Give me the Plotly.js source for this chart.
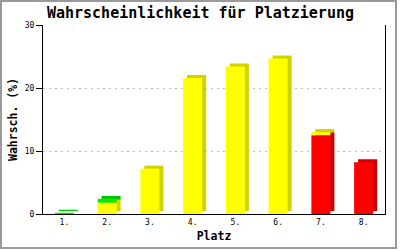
<!DOCTYPE html>
<html>
<head>
<meta charset="utf-8">
<script src="https://cdn.plot.ly/plotly-3.0.1.min.js"></script>
<style>
  html, body { margin: 0; padding: 0; background: #fff; }
  #frame { position: absolute; left: 0; top: 0; width: 397px; height: 249px;
           border: 2px solid #9a9a9a; box-sizing: border-box; background: #fff; }
  #chart { width: 393px; height: 245px; }
</style>
</head>
<body>
<div id="frame"><div id="chart"></div></div>
<script>
// ---- data ----
const places = ['1.', '2.', '3.', '4.', '5.', '6.', '7.', '8.'];
const redValues    = [0, 0, 0, 0, 0, 0, 12.5, 8.2];
const yellowValues = [0, 1.8, 7.2, 21.6, 23.4, 24.7, 0.5, 0];
const greenValues  = [0.2, 0.6, 0, 0, 0, 0, 0, 0];
const yTicks = [0, 10, 20, 30];

// ---- style ----
const W = 393, H = 245;
const margin = {l: 41, r: 10, t: 23, b: 33};
const plotW = W - margin.l - margin.r;
const plotH = H - margin.t - margin.b;
const yMax = 30;
const barW = 0.445;
const depthX = 4 * places.length / plotW;   // 4px to the right
const depthY = 3 * yMax / plotH;            // 3px up

const series = [
  {vals: redValues,    front: '#ff0000', back: '#cc0000'},
  {vals: yellowValues, front: '#ffff00', back: '#d2d200'},
  {vals: greenValues,  front: '#00ee00', back: '#00c000'}
];

// cumulative bases (stack order: red, yellow, green)
let running = places.map(() => 0);
series.forEach(s => {
  s.base = running.slice();
  running = running.map((v, i) => v + s.vals[i]);
});

const shadowTraces = series.map(s => ({
  type: 'bar', x: places, y: s.vals,
  base: s.base.map(b => b + depthY),
  width: barW, offset: -barW / 2 + depthX,
  marker: {color: s.back, line: {width: 0}},
  hoverinfo: 'skip', showlegend: false
}));
const frontTraces = series.map(s => ({
  type: 'bar', x: places, y: s.vals,
  base: s.base,
  width: barW, offset: -barW / 2,
  marker: {color: s.front, line: {width: 0}},
  hoverinfo: 'skip', showlegend: false
}));

const mono = '"DejaVu Sans Mono", "Liberation Mono", monospace';

const layout = {
  width: W, height: H,
  margin: margin,
  paper_bgcolor: '#ffffff', plot_bgcolor: '#ffffff',
  barmode: 'overlay',
  showlegend: false,
  title: {
    text: '<b>Wahrscheinlichkeit für Platzierung</b>',
    font: {family: mono, size: 15, color: '#000'},
    x: 0.505, xanchor: 'center', y: 0.955, yanchor: 'middle'
  },
  xaxis: {
    type: 'category',
    range: [-0.5, places.length - 0.5],
    showline: true, linecolor: '#000', linewidth: 1,
    showgrid: false, zeroline: false,
    ticks: '',
    tickfont: {family: mono, size: 8, color: '#000'},
    title: {text: '<b>Platz</b>', font: {family: mono, size: 11.5, color: '#000'}, standoff: 6},
    automargin: false, fixedrange: true
  },
  yaxis: {
    range: [0, yMax],
    tickvals: yTicks,
    showline: true, mirror: true, linecolor: '#000', linewidth: 1,
    showgrid: true, gridcolor: '#c0c0c0', griddash: '2px,4px', gridwidth: 1,
    zeroline: false,
    ticks: 'outside', ticklen: 6, tickcolor: '#000', tickwidth: 1,
    tickfont: {family: mono, size: 8, color: '#000'},
    title: {text: '<b>Wahrsch. (%)</b>', font: {family: mono, size: 11.5, color: '#000'}, standoff: 4},
    automargin: false, fixedrange: true
  }
};

Plotly.newPlot('chart', shadowTraces.concat(frontTraces), layout, {staticPlot: true, displayModeBar: false});
</script>
</body>
</html>
